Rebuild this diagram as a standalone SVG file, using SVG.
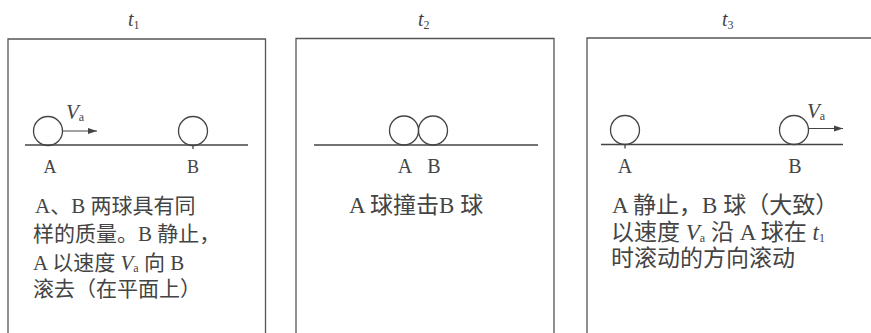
<svg xmlns="http://www.w3.org/2000/svg" width="871" height="333" viewBox="0 0 871 333">
<style>
.box{fill:none;stroke:#555;stroke-width:1.3}
.ground{stroke:#444;stroke-width:1.3}
.ball{fill:none;stroke:#444;stroke-width:1.3}
.arrow{stroke:#444;stroke-width:1.2;marker-end:url(#ah)}
.t{font-family:"Liberation Serif","Noto Sans CJK SC",serif;fill:#444}
.it{font-style:italic}
.title{font-size:20px}
.lab{font-size:18px;text-anchor:middle}
.lab3{font-size:20px;text-anchor:middle}
.txt{font-size:21px}
.txt3{font-size:23px}
.sub{font-size:12px}
.va{font-size:21px}
</style>
<defs>
<marker id="ah" markerWidth="10" markerHeight="8" refX="9" refY="4" orient="auto" markerUnits="userSpaceOnUse">
<path d="M0,1 L9,4 L0,7 Z" fill="#444"/>
</marker>
</defs>
<rect width="871" height="333" fill="#fff"/>

<g id="panel1">
<path class="box" d="M8,340 V39 H265.5 V340"/>
<text class="t title it" x="128" y="26">t<tspan class="sub" font-style="normal" dy="3">1</tspan></text>
<line class="ground" x1="25" y1="145" x2="248" y2="145"/>
<g id="p1-ballA"><circle class="ball" cx="48" cy="131" r="14.5"/></g>
<g id="p1-ballB"><circle class="ball" cx="193" cy="131" r="14.5"/><line class="ground" x1="193" y1="145" x2="193" y2="149"/></g>
<text class="t it va" x="66" y="119">V<tspan class="sub" font-style="normal" dy="2">a</tspan></text>
<text class="t lab" x="50" y="173">A</text>
<text class="t lab" x="193" y="173">B</text>
<text class="t txt" x="35" y="213">A、B 两球具有同</text>
<text class="t txt" x="33" y="241">样的质量。B 静止，</text>
<text class="t txt" x="33" y="270">A 以速度 <tspan class="it">V</tspan><tspan class="sub" dy="2">a</tspan><tspan dy="-2"> 向 B</tspan></text>
<text class="t txt" x="33" y="296">滚去（在平面上）</text>
</g>

<g id="panel2">
<path class="box" d="M296,340 V38.5 H554 V340"/>
<text class="t title it" x="418" y="26">t<tspan class="sub" font-style="normal" dy="3">2</tspan></text>
<line class="ground" x1="314" y1="145" x2="538" y2="145"/>
<g id="p2-ballA"><circle class="ball" cx="404" cy="130.5" r="14.5"/></g>
<g id="p2-ballB"><circle class="ball" cx="433" cy="130.5" r="14.5"/></g>
<text class="t lab3" x="405" y="173">A</text>
<text class="t lab3" x="434" y="173">B</text>
<text class="t txt3" x="349" y="213">A 球撞击B 球</text>
</g>

<g id="panel3">
<path class="box" d="M587,340 V38 H880"/>
<text class="t title it" x="722" y="26">t<tspan class="sub" font-style="normal" dy="3">3</tspan></text>
<line class="ground" x1="601" y1="144.5" x2="843" y2="144.5"/>
<g id="p3-ballA"><circle class="ball" cx="625" cy="130" r="14.5"/><line class="ground" x1="625" y1="144.5" x2="625" y2="148.5"/></g>
<g id="p3-ballB"><circle class="ball" cx="794" cy="130" r="14.5"/></g>
<text class="t it va" x="807" y="118">V<tspan class="sub" font-style="normal" dy="2">a</tspan></text>
<text class="t lab3" x="625" y="173">A</text>
<text class="t lab3" x="795" y="173">B</text>
<text class="t txt3" x="612" y="213">A 静止，B 球（大致）</text>
<text class="t txt3" x="611" y="240">以速度 <tspan class="it">V</tspan><tspan class="sub" dy="2">a</tspan><tspan dy="-2"> 沿 A 球在 </tspan><tspan class="it">t</tspan><tspan class="sub" dy="2">1</tspan></text>
<text class="t txt3" x="611" y="266">时滚动的方向滚动</text>
</g>

<g id="connectors">
<line class="arrow" x1="63" y1="131" x2="97" y2="131"/>
<line class="arrow" x1="809" y1="128.5" x2="843" y2="128.5"/>
</g>
</svg>
